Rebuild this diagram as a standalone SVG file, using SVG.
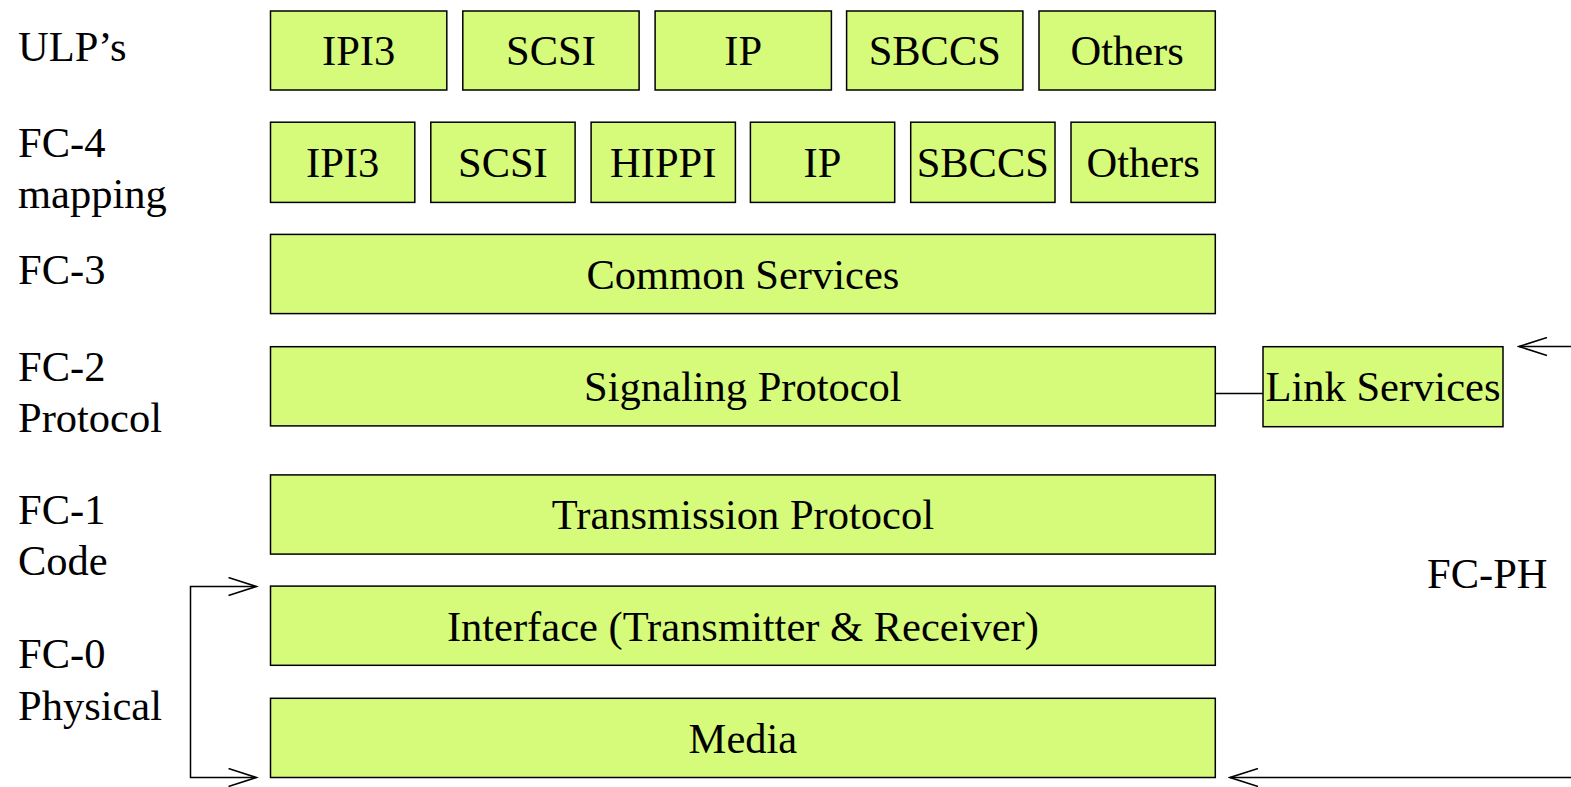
<svg xmlns="http://www.w3.org/2000/svg" width="1571" height="787" viewBox="0 0 1571 787">
<style>
.box{fill:#d6fa7a;stroke:#000;stroke-width:1.5}
.t{font-family:'Liberation Serif','Times New Roman',serif;font-size:42.5px;fill:#000}
.c{text-anchor:middle}
.ln{fill:none;stroke:#000;stroke-width:1.5}
</style>
<defs>
<marker id="arr" markerWidth="32" markerHeight="20" refX="30" refY="10" orient="auto-start-reverse" markerUnits="userSpaceOnUse">
<path d="M2,1 L30,10 L2,19" fill="none" stroke="#000" stroke-width="1.5"/>
</marker>
</defs>
<g id="labels">
<text class="t" x="18" y="61">ULP’s</text>
<text class="t" x="18" y="157">FC-4</text>
<text class="t" x="18" y="208">mapping</text>
<text class="t" x="18" y="284">FC-3</text>
<text class="t" x="18" y="381">FC-2</text>
<text class="t" x="18" y="432">Protocol</text>
<text class="t" x="18" y="524">FC-1</text>
<text class="t" x="18" y="575">Code</text>
<text class="t" x="18" y="668">FC-0</text>
<text class="t" x="18" y="720">Physical</text>
<text class="t" x="1427" y="588">FC-PH</text>
</g>
<g id="ulp-ipi3"><rect class="box" x="270.5" y="11" width="176.3" height="79"/><text class="t c" x="358.6" y="65">IPI3</text></g>
<g id="ulp-scsi"><rect class="box" x="462.8" y="11" width="176.3" height="79"/><text class="t c" x="551" y="65">SCSI</text></g>
<g id="ulp-ip"><rect class="box" x="655.1" y="11" width="176.3" height="79"/><text class="t c" x="743.2" y="65">IP</text></g>
<g id="ulp-sbccs"><rect class="box" x="846.6" y="11" width="176.3" height="79"/><text class="t c" x="934.8" y="65">SBCCS</text></g>
<g id="ulp-others"><rect class="box" x="1039" y="11" width="176.3" height="79"/><text class="t c" x="1127.1" y="65">Others</text></g>
<g id="fc4-ipi3"><rect class="box" x="270.5" y="122.2" width="144.3" height="80.2"/><text class="t c" x="342.6" y="177">IPI3</text></g>
<g id="fc4-scsi"><rect class="box" x="430.8" y="122.2" width="144.3" height="80.2"/><text class="t c" x="502.9" y="177">SCSI</text></g>
<g id="fc4-hippi"><rect class="box" x="591.1" y="122.2" width="144.3" height="80.2"/><text class="t c" x="663.2" y="177">HIPPI</text></g>
<g id="fc4-ip"><rect class="box" x="750.4" y="122.2" width="144.3" height="80.2"/><text class="t c" x="822.5" y="177">IP</text></g>
<g id="fc4-sbccs"><rect class="box" x="910.7" y="122.2" width="144.3" height="80.2"/><text class="t c" x="982.8" y="177">SBCCS</text></g>
<g id="fc4-others"><rect class="box" x="1071" y="122.2" width="144.3" height="80.2"/><text class="t c" x="1143.1" y="177">Others</text></g>
<g id="common-services"><rect class="box" x="270.5" y="234.4" width="944.8" height="79.2"/><text class="t c" x="742.9" y="289">Common Services</text></g>
<g id="signaling-protocol"><rect class="box" x="270.5" y="346.7" width="944.8" height="79.2"/><text class="t c" x="742.9" y="401">Signaling Protocol</text></g>
<g id="link-services"><rect class="box" x="1263" y="346.7" width="240" height="80"/><text class="t c" x="1383" y="401">Link Services</text></g>
<g id="transmission-protocol"><rect class="box" x="270.5" y="474.9" width="944.8" height="79.2"/><text class="t c" x="742.9" y="529">Transmission Protocol</text></g>
<g id="interface"><rect class="box" x="270.5" y="586.1" width="944.8" height="79.2"/><text class="t c" x="742.9" y="641">Interface (Transmitter &amp; Receiver)</text></g>
<g id="media"><rect class="box" x="270.5" y="698.3" width="944.8" height="79.2"/><text class="t c" x="742.9" y="753">Media</text></g>
<g id="connectors">
<line class="ln" x1="1215.3" y1="393.5" x2="1263" y2="393.5"/>
<path class="ln" d="M1571,346.5 L1519,346.5" marker-end="url(#arr)"/>
<path class="ln" d="M1571,777.5 L1230,777.5" marker-end="url(#arr)"/>
<path class="ln" d="M256.5,586.5 L190.5,586.5 L190.5,777.5 L256.5,777.5" marker-start="url(#arr)" marker-end="url(#arr)"/>
</g>
</svg>
